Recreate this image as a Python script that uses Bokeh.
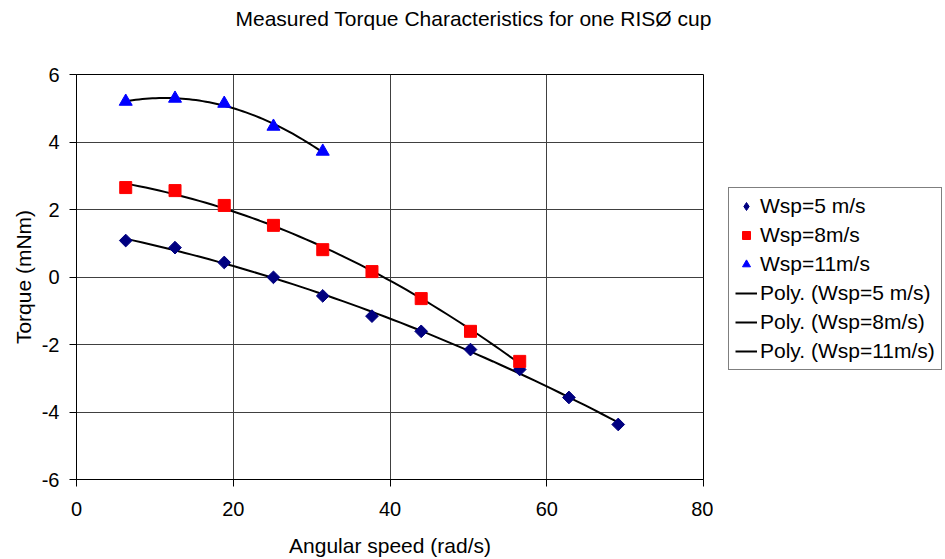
import numpy as np
from bokeh.plotting import figure
from bokeh.layouts import row
from bokeh.models import Legend, LegendItem, FixedTicker, Title
from bokeh.embed import file_html
from bokeh.resources import INLINE

# Angular speed (rad/s)
omega_5 = [6.28, 12.57, 18.85, 25.13, 31.42, 37.70, 43.98, 50.27, 56.55, 62.83, 69.12]
torque_5 = [1.08, 0.87, 0.43, -0.01, -0.56, -1.16, -1.61, -2.15, -2.74, -3.57, -4.37]

omega_8 = [6.28, 12.57, 18.85, 25.13, 31.42, 37.70, 43.98, 50.27, 56.55]
torque_8 = [2.65, 2.56, 2.12, 1.53, 0.81, 0.16, -0.64, -1.61, -2.50]

omega_11 = [6.28, 12.57, 18.85, 25.13, 31.42]
torque_11 = [5.20, 5.29, 5.14, 4.46, 3.72]

x_ticks = [0, 20, 40, 60, 80]
y_ticks = [-6, -4, -2, 0, 2, 4, 6]
y_tick_labels = ["-6", "-4", "-2", "0", "2", "4", "6"]

labels = ["Wsp=5 m/s", "Wsp=8m/s", "Wsp=11m/s",
          "Poly. (Wsp=5 m/s)", "Poly. (Wsp=8m/s)", "Poly. (Wsp=11m/s)"]

FONT = "Liberation Sans"
FS = "21px"

p = figure(width=713, height=559, output_backend="svg", toolbar_location=None,
           x_range=(0, 80), y_range=(-6, 6),
           min_border_left=76, min_border_right=10, min_border_top=74, min_border_bottom=80)
p.title = Title(text="Measured Torque Characteristics for one RISØ cup", align="left",
                offset=159, standoff=0, text_font=FONT, text_font_size=FS,
                text_font_style="normal", text_color="black")
# empty spacer title between the chart title and the plot area
p.add_layout(Title(text=" ", text_font=FONT, text_font_size=FS, standoff=20), "above")

p.outline_line_color = "black"
p.outline_line_width = 1
p.background_fill_color = "white"
p.border_fill_color = "white"

for ax in (p.xaxis[0], p.yaxis[0]):
    ax.axis_line_color = "black"
    ax.major_tick_line_color = "black"
    ax.major_tick_out = 7
    ax.major_tick_in = 0
    ax.minor_tick_line_color = None
    ax.major_label_text_font = FONT
    ax.major_label_text_font_size = "20px"
    ax.major_label_text_color = "black"
    ax.axis_label_text_font = FONT
    ax.axis_label_text_font_size = FS
    ax.axis_label_text_font_style = "normal"
    ax.axis_label_text_color = "black"

p.xaxis.ticker = FixedTicker(ticks=x_ticks)
p.yaxis.ticker = FixedTicker(ticks=y_ticks)
p.yaxis.major_label_overrides = {t: s for t, s in zip(y_ticks, y_tick_labels)}
p.xaxis.axis_label = "Angular speed (rad/s)"
p.yaxis.axis_label = "Torque (mNm)"
p.xaxis.major_label_standoff = 15
p.yaxis.major_label_standoff = 10
p.xaxis.axis_label_standoff = 15
p.yaxis.axis_label_standoff = 4

p.xgrid.grid_line_color = "#404040"
p.ygrid.grid_line_color = "#404040"
p.xgrid.grid_line_width = 1
p.ygrid.grid_line_width = 1

# Polynomial (order 2) trendlines fitted to each series
def trend(xs, ys):
    c = np.polyfit(xs, ys, 2)
    xx = np.linspace(min(xs), max(xs), 60)
    return xx, np.polyval(c, xx)

tx5, ty5 = trend(omega_5, torque_5)
tx8, ty8 = trend(omega_8, torque_8)
tx11, ty11 = trend(omega_11, torque_11)

line_kw = dict(line_color="black", line_width=2)
m5 = dict(marker="square", angle=np.pi / 4, fill_color="#000080", line_color="#000080")
m5_leg = dict(marker="diamond", fill_color="#000080", line_color="#000080")
m8 = dict(marker="square", fill_color="#FF0000", line_color="#FF0000")
m11 = dict(marker="triangle", fill_color="#0000FF", line_color="#0000FF")

p.line(tx5, ty5, **line_kw)
p.line(tx8, ty8, **line_kw)
p.line(tx11, ty11, **line_kw)
p.scatter(omega_5, torque_5, size=9, **m5)
p.scatter(omega_8, torque_8, size=12, **m8)
p.scatter(omega_11, torque_11, size=13, **m11)

# Legend panel (separate figure holding only the legend; its data lies outside its view)
q = figure(width=232, height=559, output_backend="svg", toolbar_location=None,
           x_axis_type=None, y_axis_type=None, x_range=(-1, 0), y_range=(-1, 0),
           min_border_left=0, min_border_right=0, min_border_top=0, min_border_bottom=0)
q.outline_line_color = None
q.xgrid.visible = False
q.ygrid.visible = False
q.background_fill_color = "white"
q.border_fill_color = "white"

r5 = q.scatter(omega_5, torque_5, size=11, **m5_leg)
r8 = q.scatter(omega_8, torque_8, size=8, **m8)
r11 = q.scatter(omega_11, torque_11, size=9, **m11)
rl5 = q.line(tx5, ty5, **line_kw)
rl8 = q.line(tx8, ty8, **line_kw)
rl11 = q.line(tx11, ty11, **line_kw)

legend = Legend(items=[LegendItem(label=lab, renderers=[r])
                       for lab, r in zip(labels, [r5, r8, r11, rl5, rl8, rl11])],
                location=(15, 109))
legend.label_text_font = FONT
legend.label_text_font_size = FS
legend.label_text_color = "black"
legend.border_line_color = "black"
legend.border_line_width = 1
legend.background_fill_color = "white"
legend.background_fill_alpha = 1
legend.glyph_width = 22
legend.glyph_height = 20
legend.label_height = 20
legend.spacing = 5
legend.padding = 6
legend.margin = 0
legend.label_standoff = 3
q.add_layout(legend, "center")

layout = row(p, q, spacing=0)
open("out.html", "w").write(file_html(layout, INLINE))
